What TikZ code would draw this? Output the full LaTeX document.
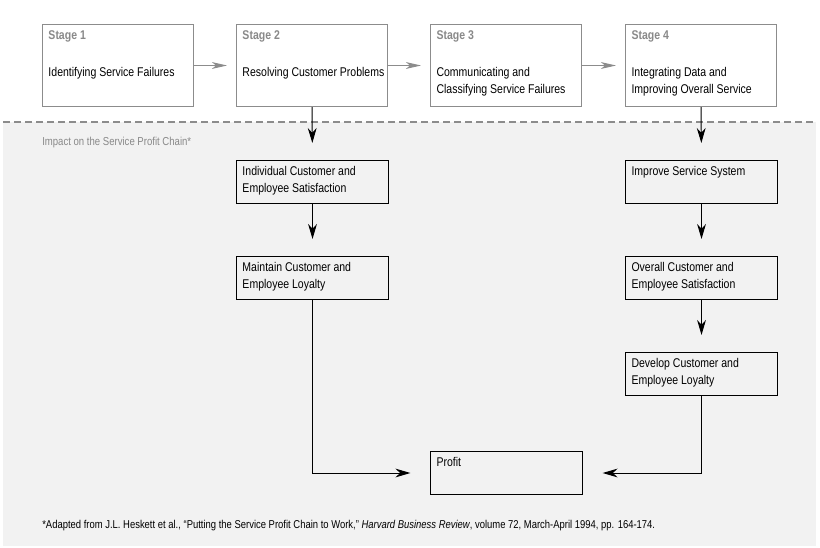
\documentclass[tikz,border=0pt]{standalone}
\usepackage{fontspec}
\setmainfont[FakeStretch=0.83]{Liberation Sans}
\usepackage{xcolor}
\usetikzlibrary{arrows.meta}
\definecolor{bggray}{HTML}{F2F2F2}
\definecolor{linegray}{HTML}{8C8C8C}
\definecolor{stagegray}{HTML}{898989}

\tikzset{
    stagebox/.style={draw=linegray, fill=white, line width=0.7pt, anchor=north west, inner sep=0.15cm,
        font=\fontsize{9}{12}\selectfont,
        execute at begin node={\begin{minipage}[t][1.75cm][t]{3.475cm}\raggedright},
        execute at end node={\end{minipage}}},
    chainbox/.style={draw=black, fill=bggray, line width=0.7pt, anchor=north west, inner sep=0.15cm,
        font=\fontsize{9}{12}\selectfont,
        execute at begin node={\begin{minipage}[t][0.775cm][t]{3.5cm}\raggedright},
        execute at end node={\end{minipage}}},
    grayarrow/.style={draw=linegray, line width=0.7pt, -{Stealth[length=0.375cm, width=0.17cm, inset=0.1cm]}, shorten >=0.225cm},
    chainarrow/.style={draw=black, line width=0.7pt, -{Stealth[length=0.375cm, width=0.22cm, inset=0.12cm]}, shorten >=0.425cm},
}

\begin{document}
\begin{tikzpicture}[x=0.025cm, y=-0.025cm]
    \useasboundingbox (0,0) rectangle (820,547);
    % Shaded lower part
    \fill[bggray] (3,122) rectangle (816,546);
    \draw[linegray, line width=1.4pt, dash pattern=on 0.175cm off 0.1cm] (3,122) -- (816,122);
    % Stages
    \node[stagebox] (s1) at (42,24) {{\color{stagegray}\bfseries Stage 1}\\[14.5pt]Identifying Service Failures};
    \node[stagebox] (s2) at (236,24) {{\color{stagegray}\bfseries Stage 2}\\[14.5pt]\mbox{Resolving Customer Problems}};
    \node[stagebox] (s3) at (430,24) {{\color{stagegray}\bfseries Stage 3}\\[14.5pt]Communicating and\\Classifying Service Failures};
    \node[stagebox] (s4) at (625,24) {{\color{stagegray}\bfseries Stage 4}\\[14.5pt]Integrating Data and\\Improving Overall Service};
    \draw[grayarrow] (s1) -- (s2);
    \draw[grayarrow] (s2) -- (s3);
    \draw[grayarrow] (s3) -- (s4);
    \node[anchor=base west, inner sep=0pt, text=stagegray, font=\fontsize{8.2}{10}\selectfont] (impact) at (42,145) {Impact on the Service Profit Chain*};
    % Left chain
    \node[chainbox] (indiv) at (236,160) {Individual Customer and\\Employee Satisfaction};
    \node[chainbox] (maintain) at (236,256) {Maintain Customer and\\Employee Loyalty};
    % Right chain
    \node[chainbox] (improve) at (625,160) {Improve Service System};
    \node[chainbox] (overall) at (625,256) {Overall Customer and\\Employee Satisfaction};
    \node[chainbox] (develop) at (625,352) {Develop Customer and\\Employee Loyalty};
    \node[chainbox] (profit) at (430,451) {Profit};
    \draw[chainarrow] (s2.south) -- (indiv.north);
    \draw[chainarrow] (indiv.south) -- (maintain.north);
    \draw[chainarrow] (s4.south) -- (improve.north);
    \draw[chainarrow] (improve.south) -- (overall.north);
    \draw[chainarrow] (overall.south) -- (develop.north);
    \draw[chainarrow, shorten >=0.49cm] (maintain.south) |- (profit.west);
    \draw[chainarrow, shorten >=0.49cm] (develop.south) |- (profit.east);
    % Footnote
    \node[anchor=base west, inner sep=0pt, font=\fontsize{8.1}{9}\selectfont] (source) at (42,528) {*Adapted from J.L. Heskett et al., ``Putting the Service Profit Chain to Work,'' \textit{Harvard Business Review}, volume 72, March-April 1994, pp. 164-174.};
\end{tikzpicture}
\end{document}
